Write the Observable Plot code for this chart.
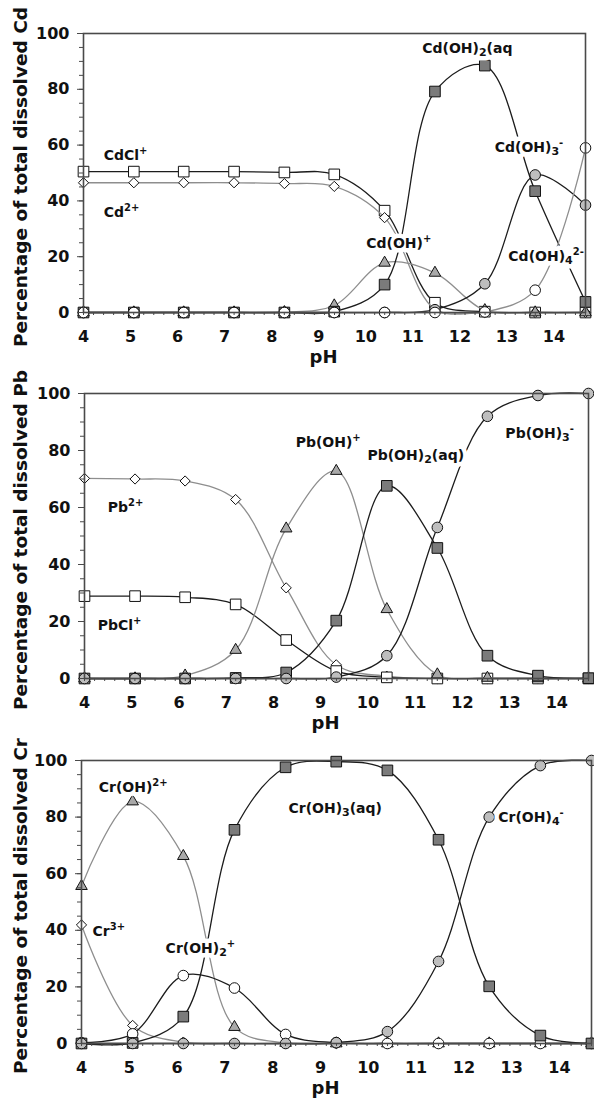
<!DOCTYPE html>
<html>
<head>
<meta charset="utf-8">
<script src="https://cdn.jsdelivr.net/npm/d3@7"></script>
<script src="https://cdn.jsdelivr.net/npm/@observablehq/plot@0.6"></script>
<style>
  html, body { margin: 0; padding: 0; background: #fff; }
  #chart { width: 594px; }
  #chart svg { display: block; }
</style>
</head>
<body>
<div id="chart"></div>
<script>
// ---------- data ----------
const pH = [4, 5.07, 6.13, 7.2, 8.27, 9.33, 10.4, 11.47, 12.53, 13.6, 14.67];
const xTickLabels = [4, 5, 6, 7, 8, 9, 10, 11, 12, 13, 14];
const yTickLabels = [0, 20, 40, 60, 80, 100];

// Cd panel
const cdCl   = [50.5, 50.5, 50.5, 50.5, 50.2, 49.5, 36.5, 3.5, 0.3, 0, 0];
const cd2    = [46.5, 46.5, 46.5, 46.5, 46.2, 45.2, 34, 1.2, 0, 0, 0];
const cdOH   = [0, 0, 0, 0, 0.1, 2.5, 17.8, 14.2, 0.8, 0, 0];
const cdOH2  = [0, 0, 0, 0, 0, 0.3, 10, 79.2, 88.5, 43.5, 3.8];
const cdOH3  = [0, 0, 0, 0, 0, 0, 0, 1, 10.3, 49.3, 38.5];
const cdOH4  = [0, 0, 0, 0, 0, 0, 0, 0, 0.2, 8, 59];
const cdLabelText = ["CdCl^{+}", "Cd^{2+}", "Cd(OH)_{2}(aq", "Cd(OH)_{3}^{-}", "Cd(OH)^{+}", "Cd(OH)_{4}^{2-}"];
const cdLabelX = [4.43, 4.43, 11.2, 12.74, 10.01, 13.03];
const cdLabelY = [56.2, 35.9, 94.6, 59.1, 24.7, 20.1];

// Pb panel
const pb2    = [70.2, 70, 69.3, 62.8, 31.8, 4.8, 0.8, 0, 0, 0, 0];
const pbCl   = [28.9, 28.9, 28.5, 26, 13.5, 2.6, 0.4, 0, 0, 0, 0];
const pbOH   = [0, 0, 1, 10, 52.6, 72.8, 24.3, 1.4, 0.2, 0, 0];
const pbOH2  = [0, 0, 0, 0.2, 2.1, 20.3, 67.6, 45.8, 8, 1, 0.1];
const pbOH3  = [0, 0, 0, 0, 0, 0.5, 8, 53, 92, 99.3, 100];
const pbLabelText = ["Pb^{2+}", "PbCl^{+}", "Pb(OH)^{+}", "Pb(OH)_{2}(aq)", "Pb(OH)_{3}^{-}"];
const pbLabelX = [4.49, 4.28, 8.47, 9.99, 12.91];
const pbLabelY = [60, 18.6, 82.8, 78.2, 86.1];

// Cr panel
const cr3    = [41.9, 6.4, 0.5, 0, 0, 0, 0, 0, 0, 0, 0];
const crOH   = [55.6, 85.5, 66.2, 5.8, 0.2, 0, 0, 0, 0, 0, 0];
const crOH2  = [0.3, 3.4, 24, 19.6, 3.2, 0.3, 0, 0, 0, 0, 0];
const crOH3  = [0, 0.2, 9.5, 75.5, 97.6, 99.6, 96.5, 72, 20.2, 2.8, 0];
const crOH4  = [0, 0, 0, 0, 0, 0.3, 4.2, 29, 80, 98.2, 100];
const crLabelText = ["Cr(OH)^{2+}", "Cr^{3+}", "Cr(OH)_{2}^{+}", "Cr(OH)_{3}(aq)", "Cr(OH)_{4}^{-}"];
const crLabelX = [4.36, 4.23, 5.76, 8.33, 12.72];
const crLabelY = [90.3, 39.6, 33.7, 83, 79.7];

// ---------- styles ----------
const BLACK = "#1c1c1c", GRAY = "#8e8e8e", AXIS = "#4a4a4a";
const MARK = {
  sqW:  {symbol: "square",   fill: "#ffffff", r: 6},
  sqD:  {symbol: "square",   fill: "#7b7b7b", r: 6},
  dia:  {symbol: "diamond2", fill: "#ffffff", r: 4.6},
  tri:  {symbol: "triangle", fill: "#a9a9a9", r: 4.3},
  cirL: {symbol: "circle",   fill: "#bebebe", r: 5.3},
  cirW: {symbol: "circle",   fill: "#ffffff", r: 5.3}
};

function series(values, line, marker) { return {values, line, marker}; }

const panels = [
  {
    title: "Percentage of total dissolved Cd",
    series: [
      series(cdCl, BLACK, "sqW"), series(cd2, GRAY, "dia"), series(cdOH, GRAY, "tri"),
      series(cdOH2, BLACK, "sqD"), series(cdOH3, BLACK, "cirL"), series(cdOH4, GRAY, "cirW")
    ],
    labels: cdLabelText.map((t, i) => ({text: t, x: cdLabelX[i], y: cdLabelY[i]})),
    height: 368, marginTop: 33, marginBottom: 56, marginLeft: 83, marginRight: 9
  },
  {
    title: "Percentage of total dissolved Pb",
    series: [
      series(pb2, GRAY, "dia"), series(pbCl, BLACK, "sqW"), series(pbOH, GRAY, "tri"),
      series(pbOH2, BLACK, "sqD"), series(pbOH3, BLACK, "cirL")
    ],
    labels: pbLabelText.map((t, i) => ({text: t, x: pbLabelX[i], y: pbLabelY[i]})),
    height: 367, marginTop: 25, marginBottom: 57, marginLeft: 84, marginRight: 6
  },
  {
    title: "Percentage of total dissolved Cr",
    series: [
      series(cr3, GRAY, "dia"), series(crOH, GRAY, "tri"), series(crOH2, BLACK, "cirW"),
      series(crOH3, BLACK, "sqD"), series(crOH4, BLACK, "cirL")
    ],
    labels: crLabelText.map((t, i) => ({text: t, x: crLabelX[i], y: crLabelY[i]})),
    height: 369, marginTop: 25, marginBottom: 61, marginLeft: 81, marginRight: 3
  }
];

const xMinor = d3.range(0, 51).map(k => pH[0] + k * (pH[pH.length - 1] - pH[0]) / 50);
const yMinor = d3.range(0, 101, 5);

function drawPanel(p) {
  const marks = [];
  for (const s of p.series) {
    const rows = pH.map((x, i) => ({x, y: s.values[i]}));
    marks.push(Plot.line(rows, {x: "x", y: "y", stroke: s.line, strokeWidth: 1.3, curve: "catmull-rom"}));
    const m = MARK[s.marker];
    marks.push(Plot.dot(rows, {x: "x", y: "y", symbol: () => m.symbol, fill: m.fill, stroke: "#111", strokeWidth: 1, r: m.r}));
  }
  // white label boxes (halo) beneath, then the label text
  marks.push(Plot.text(p.labels, {
    x: "x", y: "y", text: "text", textAnchor: "start",
    fontSize: 14, fontWeight: "bold", fill: "white",
    stroke: "white", strokeWidth: 9, strokeLinejoin: "round"
  }));
  marks.push(Plot.text(p.labels, {
    x: "x", y: "y", text: "text", textAnchor: "start",
    fontSize: 14, fontWeight: "bold", fill: "#111"
  }));
  marks.push(
    Plot.frame({stroke: AXIS, strokeWidth: 1.6}),
    Plot.axisY({ticks: yMinor, tickSize: 4, tickFormat: () => "", stroke: AXIS, label: null}),
    Plot.axisY({ticks: yTickLabels, tickSize: 6, tickPadding: 8, fontSize: 16, fontWeight: "bold", stroke: AXIS, label: null}),
    Plot.axisX({ticks: xMinor, tickSize: 3, tickFormat: () => "", stroke: AXIS, label: null}),
    Plot.axisX({ticks: xTickLabels, tickSize: 0, tickPadding: 18, fontSize: 16, fontWeight: "bold", label: null}),
    Plot.text([p.title], {frameAnchor: "left", textAnchor: "middle", lineAnchor: "middle",
      dx: -(p.marginLeft - 21), dy: 4, rotate: -90,
      fontSize: 18.5, fontWeight: "bold", fill: "#111"}),
    Plot.text(["pH"], {frameAnchor: "bottom", textAnchor: "middle", lineAnchor: "top", dx: -11, dy: 38, fontSize: 18, fontWeight: "bold", fill: "#111"})
  );
  return Plot.plot({
    width: 594, height: p.height,
    marginTop: p.marginTop, marginBottom: p.marginBottom,
    marginLeft: p.marginLeft, marginRight: p.marginRight,
    x: {domain: [pH[0], pH[pH.length - 1]], axis: null},
    y: {domain: [0, 100], axis: null},
    style: {fontFamily: "'DejaVu Sans', sans-serif", color: "#111", background: "white", overflow: "visible"},
    marks
  });
}

// render sub/superscript markup: _{..} and ^{..}
function richText(node) {
  const raw = node.textContent;
  if (!/[_^]\{/.test(raw)) return;
  const parts = [];
  const re = /([_^])\{([^}]*)\}/g;
  let last = 0, m;
  while ((m = re.exec(raw))) {
    if (m.index > last) parts.push({t: raw.slice(last, m.index), shift: 0});
    parts.push({t: m[2], shift: m[1] === "^" ? -6 : 3, small: true});
    last = re.lastIndex;
  }
  if (last < raw.length) parts.push({t: raw.slice(last), shift: 0});
  while (node.firstChild) node.removeChild(node.firstChild);
  let prev = 0;
  for (const part of parts) {
    const ts = document.createElementNS("http://www.w3.org/2000/svg", "tspan");
    ts.textContent = part.t;
    const dy = part.shift - prev;
    if (dy) ts.setAttribute("dy", dy);
    if (part.small) ts.setAttribute("font-size", part.shift < 0 ? 10 : 11);
    prev = part.shift;
    node.appendChild(ts);
  }
}

const container = document.getElementById("chart");
for (const p of panels) {
  const svg = drawPanel(p);
  svg.querySelectorAll("text").forEach(richText);
  container.appendChild(svg);
}
</script>
</body>
</html>
